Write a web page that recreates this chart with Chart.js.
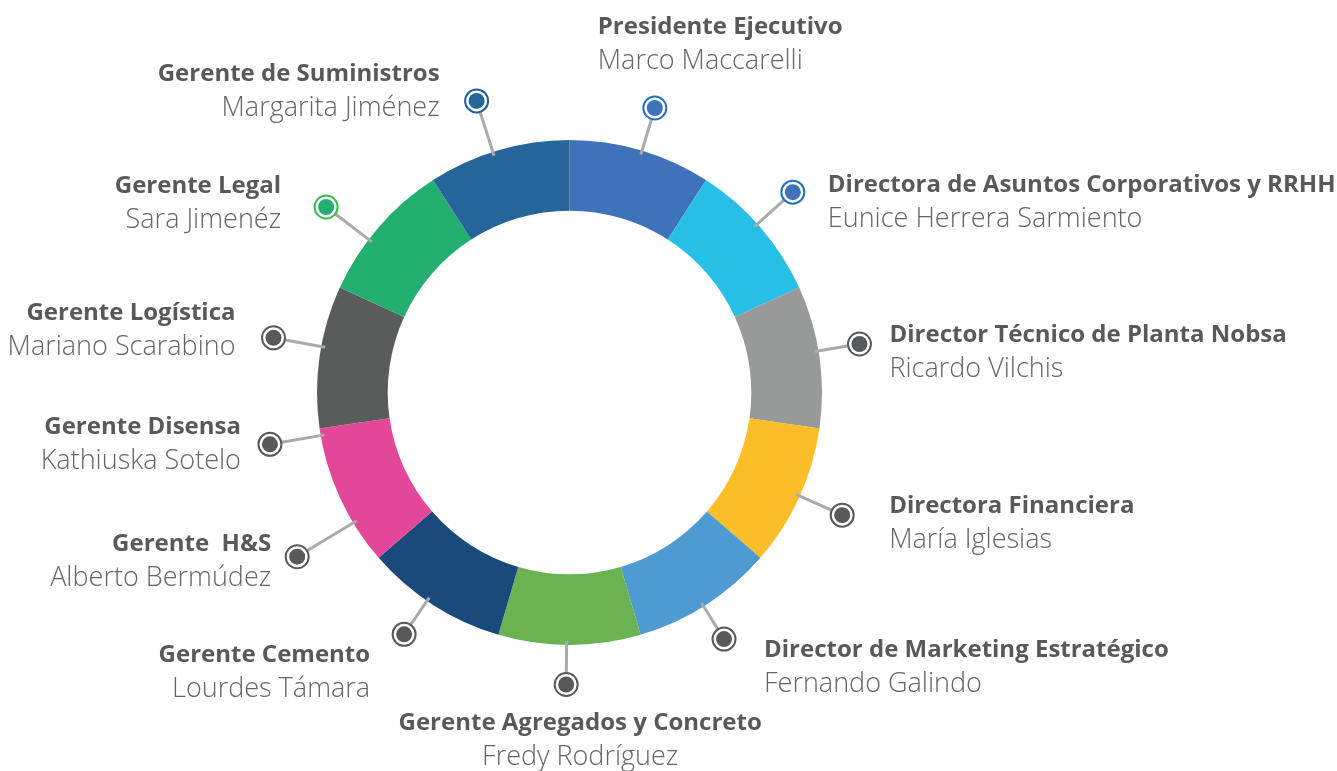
<!DOCTYPE html>
<html>
<head>
<meta charset="utf-8">
<script src="https://cdn.jsdelivr.net/npm/chart.js@4"></script>
<style>
  body { margin: 0; background: #ffffff; }
  canvas { display: block; }
</style>
</head>
<body>
<canvas id="orgChart" width="1337" height="771"></canvas>
<script>
// Slices of the ring (all the same size)
var slices = ['s1', 's2', 's3', 's4', 's5', 's6', 's7', 's8', 's9', 's10', 's11'];
var sliceValues = [1, 1, 1, 1, 1, 1, 1, 1, 1, 1, 1];
var sliceColors = ['#3e72bb', '#27bfe6', '#989a9a', '#fbbd28', '#509ad2', '#6bb253', '#1a4a7c',
                   '#e3479a', '#5a5c5c', '#24ae70', '#266599'];

// Roles and names around the ring
var roles = ['Presidente Ejecutivo', 'Directora de Asuntos Corporativos y RRHH', 'Director Técnico de Planta Nobsa',
             'Directora Financiera', 'Director de Marketing Estratégico', 'Gerente Agregados y Concreto',
             'Gerente Cemento', 'Gerente  H&S', 'Gerente Disensa', 'Gerente Logística', 'Gerente Legal',
             'Gerente de Suministros'];
var names = ['Marco Maccarelli', 'Eunice Herrera Sarmiento', 'Ricardo Vilchis', 'María Iglesias',
             'Fernando Galindo', 'Fredy Rodríguez', 'Lourdes Támara', 'Alberto Bermúdez', 'Kathiuska Sotelo',
             'Mariano Scarabino', 'Sara Jimenéz', 'Margarita Jiménez'];
// which slice each role hangs from
var roleSlice = [0, 1, 2, 3, 4, 5, 6, 7, 7, 8, 9, 10];

// label layout: position inside slice, marker radius, text offset from marker
var labelLayout = [
    { f: 0.51, r: 297, dx: -57, dy: -74, align: 'left', ring: '#1f72c0', dot: '#3e72bb' },
    { f: 0.47, r: 300, dx: 35, dy: 0, align: 'left', ring: '#1f72c0', dot: '#3e72bb' },
    { f: 0.46, r: 294, dx: 30, dy: -2, align: 'left', ring: '#58595b', dot: '#58595b' },
    { f: 0.49, r: 299, dx: 47, dy: -2, align: 'left', ring: '#58595b', dot: '#58595b' },
    { f: 0.52, r: 291, dx: 40, dy: 18, align: 'left', ring: '#58595b', dot: '#58595b' },
    { f: 0.52, r: 292, dx: 14, dy: 46, align: 'center', ring: '#58595b', dot: '#58595b' },
    { f: 0.55, r: 293, dx: -34, dy: 28, align: 'right', ring: '#58595b', dot: '#58595b' },
    { f: 0.30, r: 318, dx: -26, dy: -6, align: 'right', ring: '#58595b', dot: '#58595b' },
    { f: 0.95, r: 304, dx: -29, dy: -10, align: 'right', ring: '#58595b', dot: '#58595b' },
    { f: 0.57, r: 301, dx: -38, dy: -18, align: 'right', ring: '#58595b', dot: '#58595b' },
    { f: 0.39, r: 306, dx: -45, dy: -14, align: 'right', ring: '#3cba4c', dot: '#24ae70' },
    { f: 0.46, r: 306, dx: -37, dy: -20, align: 'right', ring: '#1f5f9e', dot: '#266599' }
];

var roleLabels = {
    id: 'roleLabels',
    afterDatasetsDraw: function(chart) {
        var ctx = chart.ctx;
        var arcs = chart.getDatasetMeta(0).data;
        ctx.save();
        roles.forEach(function(role, i) {
            var arc = arcs[roleSlice[i]];
            var lay = labelLayout[i];
            var a = arc.startAngle + lay.f * (arc.endAngle - arc.startAngle);
            var cos = Math.cos(a), sin = Math.sin(a);
            var mx = arc.x + cos * lay.r, my = arc.y + sin * lay.r;

            // connector
            ctx.strokeStyle = '#a9aaad';
            ctx.lineWidth = 3;
            ctx.beginPath();
            ctx.moveTo(arc.x + cos * (arc.outerRadius - 4), arc.y + sin * (arc.outerRadius - 4));
            ctx.lineTo(arc.x + cos * (lay.r - 12), arc.y + sin * (lay.r - 12));
            ctx.stroke();

            // marker
            ctx.fillStyle = '#ffffff';
            ctx.strokeStyle = lay.ring;
            ctx.lineWidth = 2;
            ctx.beginPath();
            ctx.arc(mx, my, 11.5, 0, Math.PI * 2);
            ctx.fill();
            ctx.stroke();
            ctx.fillStyle = lay.dot;
            ctx.beginPath();
            ctx.arc(mx, my, 8, 0, Math.PI * 2);
            ctx.fill();

            // text
            var tx = mx + lay.dx, ty = my + lay.dy;
            ctx.textAlign = lay.align;
            ctx.textBaseline = 'alphabetic';
            ctx.fillStyle = '#58595b';
            ctx.font = 'bold 24px "Open Sans"';
            ctx.fillText(role, tx, ty);
            ctx.fillStyle = '#646567';
            ctx.font = '300 27px "Open Sans"';
            ctx.fillText(names[i], tx, ty + 35);
        });
        ctx.restore();
    }
};

var ctx = document.getElementById('orgChart').getContext('2d');
var orgChart = new Chart(ctx, {
    type: 'doughnut',
    data: {
        labels: slices,
        datasets: [{
            data: sliceValues,
            backgroundColor: sliceColors,
            borderWidth: 0
        }]
    },
    options: {
        responsive: false,
        animation: false,
        cutout: '72%',
        layout: {
            padding: { left: 317, right: 515, top: 140, bottom: 126 }
        },
        plugins: {
            legend: { display: false },
            tooltip: { enabled: false }
        }
    },
    plugins: [roleLabels]
});
</script>
</body>
</html>
